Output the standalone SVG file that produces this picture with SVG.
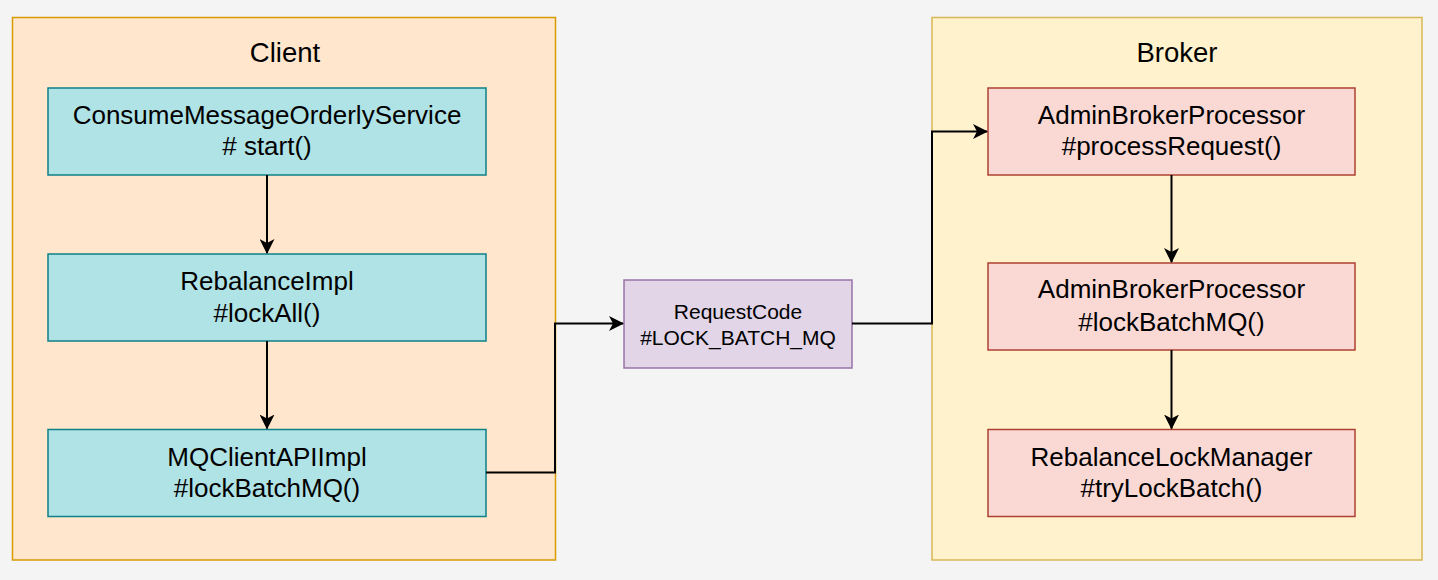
<svg xmlns="http://www.w3.org/2000/svg" width="1438" height="580" viewBox="0 0 1438 580">
<style>
text{font-family:"Liberation Sans",Arial,sans-serif;fill:#000;text-anchor:middle}
.title{font-size:27.5px}
.lbl{font-size:26px}
.small{font-size:21px}
.client{fill:#ffe6cc;stroke:#d79b00;stroke-width:1.5}
.broker{fill:#fff2cc;stroke:#d6b656;stroke-width:1.5}
.cn{fill:#b0e3e6;stroke:#0e8088;stroke-width:1.5}
.bn{fill:#fad9d5;stroke:#ae4132;stroke-width:1.5}
.rq{fill:#e1d5e7;stroke:#9673a6;stroke-width:1.5}
.edge{fill:none;stroke:#000;stroke-width:2;marker-end:url(#arr)}
</style>
<defs>
<marker id="arr" markerUnits="userSpaceOnUse" viewBox="0 0 15 15" refX="14" refY="7.5" markerWidth="15" markerHeight="15" orient="auto">
<path d="M0,0 L15,7.5 L0,15 L4,7.5 Z" fill="#000"/>
</marker>
</defs>
<rect width="1438" height="580" fill="#f4f4f4"/>
<g id="client">
<rect class="client" x="12.5" y="17.5" width="543" height="542.5"/>
<text class="title" x="285" y="61.5">Client</text>
</g>
<g id="broker">
<rect class="broker" x="932" y="17.5" width="490" height="542.5"/>
<text class="title" x="1177" y="61.5">Broker</text>
</g>
<g id="consume">
<rect class="cn" x="48" y="88" width="438" height="87"/>
<text class="lbl" x="267" y="123.5">ConsumeMessageOrderlyService</text>
<text class="lbl" x="267" y="154.5"># start()</text>
</g>
<g id="rebalanceImpl">
<rect class="cn" x="48" y="254" width="438" height="87"/>
<text class="lbl" x="267" y="290">RebalanceImpl</text>
<text class="lbl" x="267" y="321.5">#lockAll()</text>
</g>
<g id="mqClient">
<rect class="cn" x="48" y="429.5" width="438" height="87"/>
<text class="lbl" x="267" y="465.5">MQClientAPIImpl</text>
<text class="lbl" x="267" y="496.5">#lockBatchMQ()</text>
</g>
<g id="requestCode">
<rect class="rq" x="624" y="280" width="228" height="88"/>
<text class="small" x="738" y="318.5">RequestCode</text>
<text class="small" x="738" y="344.5">#LOCK_BATCH_MQ</text>
</g>
<g id="adminProcess">
<rect class="bn" x="988" y="88" width="367" height="87"/>
<text class="lbl" x="1171.5" y="123.5">AdminBrokerProcessor</text>
<text class="lbl" x="1171.5" y="154.5">#processRequest()</text>
</g>
<g id="adminLock">
<rect class="bn" x="988" y="263" width="367" height="87"/>
<text class="lbl" x="1171.5" y="297.5">AdminBrokerProcessor</text>
<text class="lbl" x="1171.5" y="331">#lockBatchMQ()</text>
</g>
<g id="lockManager">
<rect class="bn" x="988" y="429.5" width="367" height="87"/>
<text class="lbl" x="1171.5" y="465.5">RebalanceLockManager</text>
<text class="lbl" x="1171.5" y="496.5">#tryLockBatch()</text>
</g>
<g id="connectors">
<path class="edge" d="M267,175 L267,253"/>
<path class="edge" d="M267,341 L267,428.5"/>
<path class="edge" d="M486,472.5 L555,472.5 L555,323.5 L623,323.5"/>
<path class="edge" d="M852,323.5 L932,323.5 L932,131.5 L987,131.5"/>
<path class="edge" d="M1171.5,175 L1171.5,262"/>
<path class="edge" d="M1171.5,350 L1171.5,428.5"/>
</g>
</svg>
